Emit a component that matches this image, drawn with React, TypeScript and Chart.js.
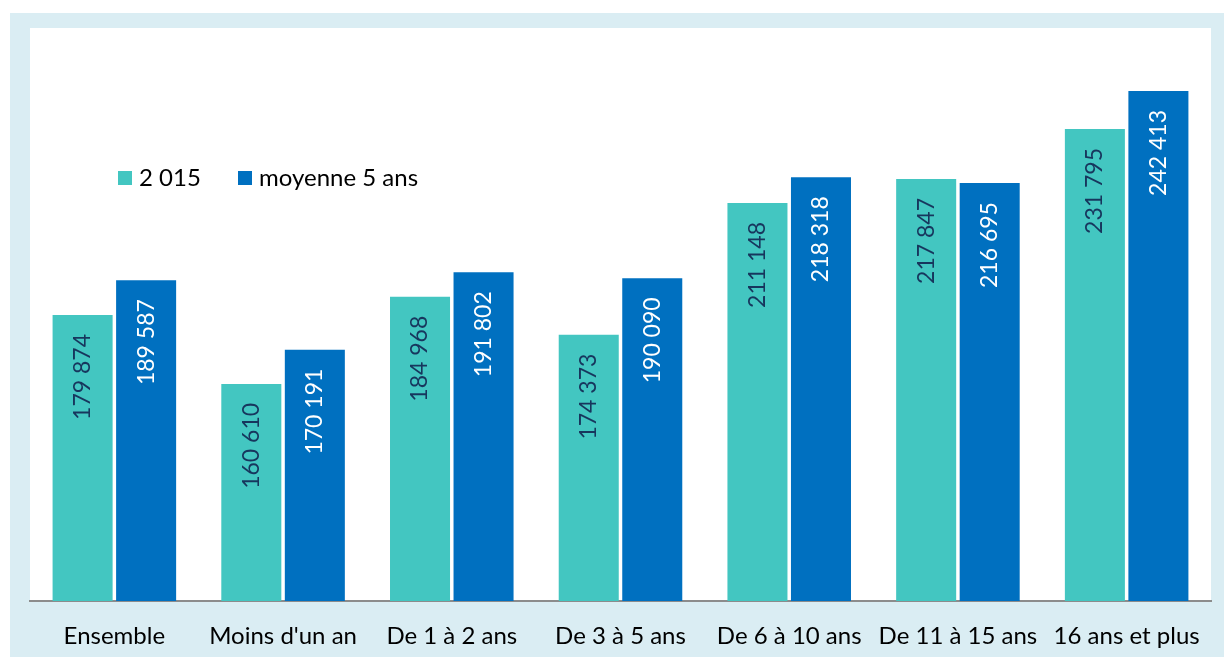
import React, { useEffect, useRef } from "react";
import { Chart, registerables } from "chart.js";

Chart.register(...registerables);

const categories = [
  "Ensemble",
  "Moins d'un an",
  "De 1 à 2 ans",
  "De 3 à 5 ans",
  "De 6 à 10 ans",
  "De 11 à 15 ans",
  "16 ans et plus",
];
const values2015 = [179874, 160610, 184968, 174373, 211148, 217847, 231795];
const valuesMoyenne = [189587, 170191, 191802, 190090, 218318, 216695, 242413];
const seriesNames = ["2 015", "moyenne 5 ans"];

const FONT = "Lato, 'Noto Sans', sans-serif";
const TEAL = "#43C6C1";
const BLUE = "#0070C0";

const fmt = (v: number) => {
  const s = String(Math.round(v));
  return s.replace(/\B(?=(\d{3})+(?!\d))/g, " ");
};

const plotBg = {
  id: "plotBg",
  beforeDraw(chart: any) {
    const { ctx, chartArea } = chart;
    ctx.save();
    ctx.fillStyle = "#FFFFFF";
    ctx.fillRect(chartArea.left, chartArea.top, chartArea.right - chartArea.left, chartArea.bottom - chartArea.top);
    ctx.restore();
  },
};

const valueLabels = {
  id: "valueLabels",
  afterDatasetsDraw(chart: any) {
    const { ctx } = chart;
    chart.data.datasets.forEach((ds: any, di: number) => {
      const meta = chart.getDatasetMeta(di);
      meta.data.forEach((bar: any, i: number) => {
        const v = ds.data[i];
        ctx.save();
        ctx.translate(bar.x, bar.y + 19);
        ctx.rotate(-Math.PI / 2);
        ctx.font = `23px ${FONT}`;
        ctx.fillStyle = di === 0 ? "#17365D" : "#FFFFFF";
        ctx.textAlign = "right";
        ctx.textBaseline = "middle";
        ctx.fillText(fmt(v), 0, 0);
        ctx.restore();
      });
    });
  },
};

const customLegend = {
  id: "customLegend",
  afterDraw(chart: any) {
    const { ctx } = chart;
    const items = [
      { x: 108, color: TEAL, text: seriesNames[0] },
      { x: 228, color: BLUE, text: seriesNames[1] },
    ];
    const cy = 165;
    ctx.save();
    ctx.font = `24px ${FONT}`;
    ctx.textBaseline = "middle";
    ctx.textAlign = "left";
    items.forEach((it) => {
      ctx.fillStyle = it.color;
      ctx.fillRect(it.x, cy - 7, 14, 14);
      ctx.fillStyle = "#000000";
      ctx.fillText(it.text, it.x + 21, cy);
    });
    ctx.restore();
  },
};

export default function App() {
  const ref = useRef<HTMLCanvasElement | null>(null);
  useEffect(() => {
    if (!ref.current) return;
    const chart = new Chart(ref.current, {
      type: "bar",
      data: {
        labels: categories,
        datasets: [
          {
            label: seriesNames[0],
            data: values2015,
            backgroundColor: TEAL,
            categoryPercentage: 0.753,
            barPercentage: 0.945,
          },
          {
            label: seriesNames[1],
            data: valuesMoyenne,
            backgroundColor: BLUE,
            categoryPercentage: 0.753,
            barPercentage: 0.945,
          },
        ],
      },
      options: {
        animation: false,
        responsive: false,
        maintainAspectRatio: false,
        layout: { padding: { left: 20, right: 13, top: 15, bottom: 0 } },
        plugins: {
          legend: { display: false },
          tooltip: { enabled: false },
        },
        scales: {
          y: {
            display: false,
            min: 100000,
            max: 260000,
          },
          x: {
            grid: { display: false, drawTicks: false },
            border: { color: "#8C8C8C", width: 2 },
            ticks: {
              color: "#000000",
              font: { family: FONT, size: 24 },
              padding: 21,
              maxRotation: 0,
              autoSkip: false,
            },
            afterFit(scale: any) {
              scale.height = 56;
            },
          },
        },
      },
      plugins: [plotBg, valueLabels, customLegend],
    });
    return () => chart.destroy();
  }, []);

  return (
    <div
      style={{
        position: "absolute",
        left: 10,
        top: 13,
        width: 1214,
        height: 644,
        background: "#DAEDF3",
      }}
    >
      <canvas ref={ref} width={1214} height={644} style={{ display: "block", width: 1214, height: 644 }} />
    </div>
  );
}
